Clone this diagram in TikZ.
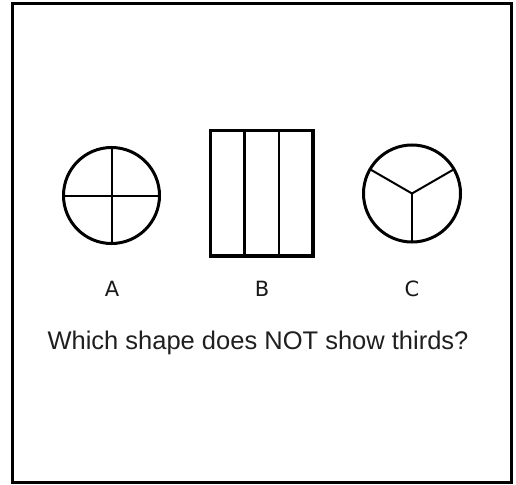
\documentclass[tikz,border=0pt]{standalone}
\usepackage{fontspec}
\setmainfont{Liberation Sans}
\newfontfamily\lblfont{DejaVu Sans}
\begin{document}
\begin{tikzpicture}[x=1pt,y=-1pt,
  frame/.style={draw=black,line width=3pt},
  outline/.style={draw=black,line width=3pt},
  divider/.style={draw=black,line width=2pt},
  letter/.style={anchor=base,inner sep=0pt,font=\lblfont\fontsize{21}{24}\selectfont,text=black!90},
  question/.style={anchor=base,inner sep=0pt,font=\fontsize{25.5}{30}\selectfont,text=black!88}]
\useasboundingbox (0,0) rectangle (516,484);
\draw[frame] (12.5,4) rectangle (511,482.5);
% shape A
\coordinate (ca) at (111.5,195.5);
\draw[outline] (ca) circle[radius=48];
\draw[divider] ([yshift=-48pt]ca) -- ([yshift=48pt]ca);
\draw[divider] ([xshift=-48pt]ca) -- ([xshift=48pt]ca);
% shape B
\coordinate (rb1) at (210.5,130.5);
\coordinate (rb2) at (313,256);
\draw[outline,line width=3.5pt] (rb1) rectangle (rb2);
\draw[divider,line width=2.5pt] (244.7,130.5) -- (244.7,256);
\draw[divider,line width=2.5pt] (278.8,130.5) -- (278.8,256);
% shape C
\coordinate (cc) at (412,193.5);
\draw[outline] (cc) circle[radius=48.5];
\draw[divider] (cc) -- ++(90:48.5);
\draw[divider] (cc) -- ++(210:48.5);
\draw[divider] (cc) -- ++(330:48.5);
% labels
\node[letter] (la) at (112,296.5) {A};
\node[letter] (lb) at (262,296.5) {B};
\node[letter] (lc) at (412,296.5) {C};
\node[question] (q) at (258,349) {Which shape does NOT show thirds?};
\end{tikzpicture}
\end{document}
